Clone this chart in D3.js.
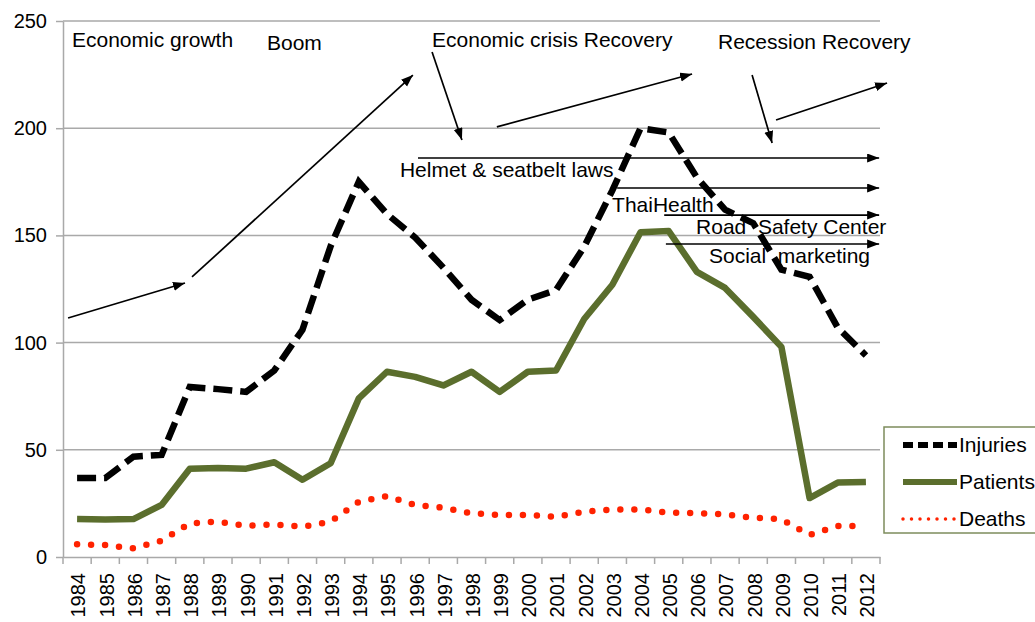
<!DOCTYPE html>
<html>
<head>
<meta charset="utf-8">
<script src="https://cdn.jsdelivr.net/npm/d3@7"></script>
<style>
  body { margin: 0; background: #fff; }
  svg { display: block; font-family: "Liberation Sans", Arial, sans-serif; }
</style>
</head>
<body>
<svg id="chart" width="1035" height="622"></svg>
<script>
var years = ["1984","1985","1986","1987","1988","1989","1990","1991","1992","1993",
             "1994","1995","1996","1997","1998","1999","2000","2001","2002","2003",
             "2004","2005","2006","2007","2008","2009","2010","2011","2012"];
var injuries = [36.8,36.8,46.8,47.6,79.3,78.3,77,87,106,145,
                175,160,149,135,120,110.5,120,124.5,144.7,171,
                200,198,177,162,155.7,134,130.7,107,94];
var patients = [17.7,17.5,17.7,24.3,41.2,41.5,41.2,44.2,36,43.7,
                74,86.4,84,80,86.4,77,86.4,87,111,127,
                151.5,152,133,125.5,112,98,27.5,34.7,35];
var deaths = [5.9,5.6,4,7.6,15.7,16.5,14.5,15.2,14.1,16.5,
              25.8,28.4,24.2,23,20.4,19.6,19.6,18.8,21.1,22.2,
              22.2,20.7,20.4,19.9,18.3,17.6,10.3,14.5,14.5];
var yTicks = [0, 50, 100, 150, 200, 250];
var seriesNames = ["Injuries", "Patients", "Deaths"];

// annotations, in (year, value) units
var periodLabels = [
  ["Economic growth", 1983.82, 237.9],
  ["Boom", 1990.74, 236.5],
  ["Economic crisis Recovery", 1996.6, 237.9],
  ["Recession Recovery", 2006.75, 236.9]
];
var trendArrows = [
  [1983.68, 111.5, 1987.83, 127.8],
  [1988.08, 130.6, 1995.92, 224.8],
  [1996.6, 235.5, 1997.66, 194.5],
  [1998.9, 200.6, 2005.83, 225.3],
  [2007.96, 224.8, 2008.67, 193.1],
  [2008.81, 203.8, 2012.75, 221.1]
];
var policyStart = [1996.1, 2003.17, 2004.84, 2004.9];
var policyLevel = [186.1, 172.1, 159.5, 146];
var policyEnd = 2012.47;
var policyLabels = [
  ["Helmet & seatbelt laws", 1995.46, 177.2],
  ["ThaiHealth", 2002.99, 160.9],
  ["Road  Safety Center", 2005.97, 150.7],
  ["Social  marketing", 2006.43, 137.1]
];

var svg = d3.select("#chart");
var plotLeft = 63, plotRight = 880, plotTop = 21, plotBottom = 557;
var gridColor = "#a9a9a9";

var x = d3.scaleBand().domain(years).range([plotLeft, plotRight]);
var bw = x.bandwidth();
var xl = d3.scaleLinear().domain([1984, 2012])
  .range([x("1984") + bw / 2, x("2012") + bw / 2]);
var y = d3.scaleLinear().domain([0, 250]).range([plotBottom, plotTop]);

// gridlines
svg.append("g").selectAll("line").data(yTicks.slice(1)).enter().append("line")
  .attr("x1", plotLeft).attr("x2", plotRight)
  .attr("y1", function(d) { return y(d); }).attr("y2", function(d) { return y(d); })
  .style("stroke", gridColor).style("stroke-width", 1.5);

// y axis
var yAxis = svg.append("g").attr("transform", "translate(" + plotLeft + ",0)")
  .call(d3.axisLeft(y).tickValues(yTicks).tickSize(7).tickPadding(9).tickSizeOuter(0));
yAxis.select(".domain").style("stroke", gridColor).style("stroke-width", 1.5);
yAxis.selectAll(".tick line").style("stroke", gridColor).style("stroke-width", 1.5);
yAxis.selectAll("text").style("font-size", "20px").style("fill", "#000")
  .attr("font-family", "Liberation Sans, Arial, sans-serif");

// x axis
var xAxis = svg.append("g").attr("transform", "translate(0," + plotBottom + ")")
  .call(d3.axisBottom(x).tickSize(7).tickSizeOuter(0));
xAxis.select(".domain").style("stroke", gridColor).style("stroke-width", 1.5);
xAxis.selectAll(".tick line").attr("transform", "translate(" + (-bw / 2) + ",0)")
  .style("stroke", gridColor).style("stroke-width", 1.5);
xAxis.append("line").attr("x1", plotRight).attr("x2", plotRight).attr("y1", 0).attr("y2", 7)
  .style("stroke", gridColor).style("stroke-width", 1.5);
xAxis.selectAll(".tick text")
  .attr("transform", "rotate(-90)")
  .attr("x", -16).attr("y", 0).attr("dy", "0.42em")
  .style("text-anchor", "end").style("font-size", "20px").style("fill", "#000")
  .attr("font-family", "Liberation Sans, Arial, sans-serif");

// series lines
var line = d3.line()
  .x(function(d, i) { return x(years[i]) + bw / 2; })
  .y(function(d) { return y(d); });

svg.append("path").datum(patients).attr("d", line)
  .style("fill", "none").style("stroke", "#5b6e2d").style("stroke-width", 6.5)
  .style("stroke-linejoin", "round");
svg.append("path").datum(deaths).attr("d", line)
  .style("fill", "none").style("stroke", "#ff2200").style("stroke-width", 6.5)
  .style("stroke-linecap", "round").style("stroke-dasharray", "0,14");
svg.append("path").datum(injuries).attr("d", line)
  .style("fill", "none").style("stroke", "#000").style("stroke-width", 6.5)
  .style("stroke-dasharray", "19,8");

// arrowhead
svg.append("defs").append("marker")
  .attr("id", "head").attr("markerUnits", "userSpaceOnUse")
  .attr("markerWidth", 13).attr("markerHeight", 10)
  .attr("refX", 12).attr("refY", 4.5).attr("orient", "auto")
  .append("path").attr("d", "M0,0 L12,4.5 L0,9 Z").style("fill", "#000");

svg.append("g").selectAll("line").data(trendArrows).enter().append("line")
  .attr("x1", function(d) { return xl(d[0]); }).attr("y1", function(d) { return y(d[1]); })
  .attr("x2", function(d) { return xl(d[2]); }).attr("y2", function(d) { return y(d[3]); })
  .style("stroke", "#000").style("stroke-width", 1.7)
  .attr("marker-end", "url(#head)");

svg.append("g").selectAll("line").data(policyStart).enter().append("line")
  .attr("x1", function(d) { return xl(d); }).attr("x2", xl(policyEnd))
  .attr("y1", function(d, i) { return y(policyLevel[i]); })
  .attr("y2", function(d, i) { return y(policyLevel[i]); })
  .style("stroke", "#000").style("stroke-width", 1.7)
  .attr("marker-end", "url(#head)");

svg.append("g").selectAll("text").data(periodLabels.concat(policyLabels)).enter().append("text")
  .attr("x", function(d) { return xl(d[1]); })
  .attr("y", function(d) { return y(d[2]); })
  .style("font-size", "21px").style("fill", "#000")
  .style("white-space", "pre")
  .text(function(d) { return d[0]; });

// legend
var legend = svg.append("g");
legend.append("rect").attr("x", 884).attr("y", 427).attr("width", 170).attr("height", 106)
  .style("fill", "#fff").style("stroke", "#7d8c5c").style("stroke-width", 1.5);
var legendStyles = [
  { color: "#000", dash: "10,5", width: 6, cap: "butt" },
  { color: "#5b6e2d", dash: null, width: 6, cap: "butt" },
  { color: "#ff2200", dash: "0,8.5", width: 3.5, cap: "round" }
];
seriesNames.forEach(function(name, i) {
  var ly = 445 + i * 37;
  var st = legendStyles[i];
  legend.append("line").attr("x1", 903).attr("x2", 957).attr("y1", ly).attr("y2", ly)
    .style("stroke", st.color).style("stroke-width", st.width)
    .style("stroke-linecap", st.cap).style("stroke-dasharray", st.dash);
  legend.append("text").attr("x", 959).attr("y", ly).attr("dy", "0.35em")
    .style("font-size", "21px").style("fill", "#000").text(name);
});
</script>
</body>
</html>
